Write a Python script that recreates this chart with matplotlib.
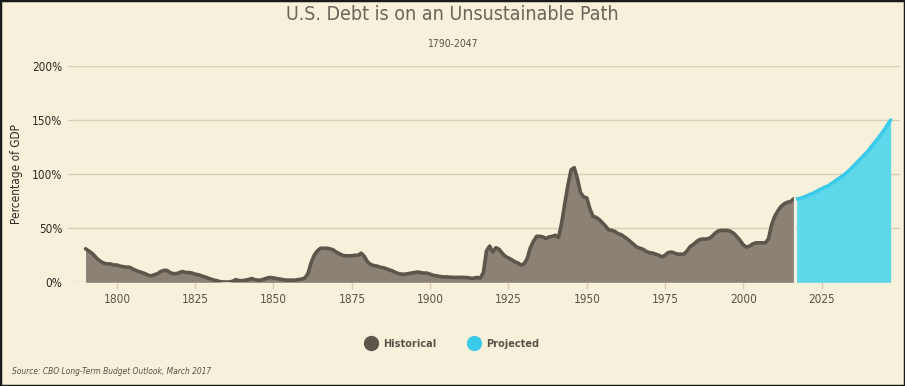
import matplotlib
matplotlib.use("Agg")
import matplotlib.pyplot as plt
from matplotlib.lines import Line2D
from matplotlib.patches import Rectangle

plt.rcParams['font.family'] = ['DejaVu Sans']
plt.rcParams['font.stretch'] = 'condensed'

hist_years = list(range(1790, 2017))
hist_values = [
    31, 29, 27, 24, 21, 19, 17.5, 17, 17, 16,            # 1790-1799
    16, 15, 14.5, 14, 14, 12.5, 11, 10, 9, 8,            # 1800-1809
    6.5, 6, 7, 8, 10, 11, 11, 9, 8, 8,                   # 1810-1819
    9, 10, 9, 9, 8.5, 7.5, 7, 6, 5, 4,                   # 1820-1829
    3, 2, 1.5, 0.5, 0.3, 0.2, 0.3, 1, 2.5, 1.5,          # 1830-1839
    1.5, 2, 2.5, 3.5, 2.5, 2, 2, 3, 4, 4.5,              # 1840-1849
    4, 3.5, 3, 2.5, 2, 2, 2, 2, 2.5, 3,                  # 1850-1859
    4, 8, 18, 25, 29, 31.5, 31.5, 31.5, 31, 30,          # 1860-1869
    28, 26.5, 25, 24.5, 24.5, 24.5, 25, 25, 27, 24,      # 1870-1879
    19, 16.5, 15.5, 15, 14, 13.5, 12.5, 11.5, 10.5, 9,   # 1880-1889
    8, 7.5, 7.5, 8, 8.5, 9, 9.5, 9, 8.5, 8.5,            # 1890-1899
    7.5, 6.5, 6, 5.5, 5, 5, 4.8, 4.6, 4.6, 4.6,          # 1900-1909
    4.6, 4.5, 4.3, 3.8, 3.8, 4.5, 3.8, 9, 29, 33.5,      # 1910-1919
    28, 32, 30.5, 27, 24, 22.5, 21, 19, 18, 16,          # 1920-1929
    17, 22, 32, 38, 42.5, 42.5, 42, 40.5, 42, 42.5,      # 1930-1939
    43.5, 41.5, 55, 73, 90, 104, 106, 96, 83, 79,        # 1940-1949
    78, 68, 61, 60, 58, 55, 52, 48.5, 48, 47,            # 1950-1959
    45, 44, 42, 40, 37.5, 35, 32.5, 31.5, 30.5, 28.5,    # 1960-1969
    27.5, 27, 26, 25, 23.5, 25, 27.5, 28, 27, 26,        # 1970-1979
    26, 26, 29, 33, 35, 37.5, 39.5, 40, 40, 40.5,        # 1980-1989
    42.5, 45.5, 47.5, 48, 48, 48, 47, 45, 42, 38.5,      # 1990-1999
    34.5, 32.5, 33.5, 35.5, 36.5, 36.5, 36.5, 36.5, 40, 53,  # 2000-2009
    61, 66, 70, 72.5, 74, 74.5, 77,                      # 2010-2016
]

proj_years = list(range(2017, 2048))
proj_values = [
    77, 77.5, 78.5, 79.5, 81, 82, 83.5, 85, 86.5, 88,
    89, 91, 93, 95, 97, 99, 101.5, 104, 107, 110,
    113, 116, 119, 122, 126, 129.5, 133, 137, 141, 145.5,
    150,
]

x_ticks = [1800, 1825, 1850, 1875, 1900, 1925, 1950, 1975, 2000, 2025]
y_ticks = [0, 50, 100, 150, 200]
y_tick_labels = ['0%', '50%', '100%', '150%', '200%']

BG = '#f7f0da'
GRID = '#d9cfb4'
TEXT = '#5a5348'
HIST_LINE = '#5d564b'
HIST_FILL = '#8b8275'
PROJ_LINE = '#3ccaea'
PROJ_FILL = '#5dd8ea'

fig = plt.figure(figsize=(9.05, 3.86), dpi=100)
fig.patch.set_facecolor(BG)
ax = fig.add_axes([68 / 905, 1 - 282.3 / 386, (900 - 68) / 905, (282.3 - 66) / 386])
ax.set_facecolor(BG)

ax.fill_between(hist_years, hist_values, 0, color=HIST_FILL, lw=0, zorder=2)
ax.plot(hist_years, hist_values, color=HIST_LINE, lw=2.6, solid_joinstyle='round',
        solid_capstyle='round', zorder=3)
ax.fill_between(proj_years, proj_values, 0, color=PROJ_FILL, lw=0, zorder=2)
ax.plot(proj_years, proj_values, color=PROJ_LINE, lw=2.6, solid_capstyle='round', zorder=3)
ax.plot([proj_years[0] - 0.45, proj_years[0] - 0.45], [0, proj_values[0]], color='#f4f1e8',
        lw=1.6, zorder=4)

ax.set_xlim(1784.4, 2050)
ax.set_ylim(0, 200)
ax.set_yticks(y_ticks)
ax.set_yticklabels(y_tick_labels)
ax.set_xticks(x_ticks)
ax.set_xticklabels([str(t) for t in x_ticks])
ax.yaxis.grid(True, color=GRID, lw=1)
ax.set_axisbelow(True)
for s in ax.spines.values():
    s.set_visible(False)
ax.tick_params(axis='y', length=0, pad=4, labelsize=8.5, labelcolor='#2e2a24')
ax.tick_params(axis='x', length=5, width=1, color=GRID, pad=3, labelsize=8.5, labelcolor=TEXT)
ax.set_ylabel('Percentage of GDP', fontsize=8.5, color='#2e2a24')
ax.yaxis.set_label_coords((23 - 68) / 832, 0.5)

fig.text(0.5, 1 - 15 / 386, 'U.S. Debt is on an Unsustainable Path', ha='center', va='center',
         fontsize=14, color='#6b655a')
fig.text(0.5, 1 - 44 / 386, '1790-2047', ha='center', va='center', fontsize=7.5, color=TEXT)

handles = [
    Line2D([], [], marker='o', ls='none', markersize=10, markerfacecolor=HIST_LINE,
           markeredgecolor=HIST_LINE, label='Historical'),
    Line2D([], [], marker='o', ls='none', markersize=10, markerfacecolor=PROJ_LINE,
           markeredgecolor=PROJ_LINE, label='Projected'),
]
leg = fig.legend(handles=handles, loc='center', bbox_to_anchor=(450 / 905, 1 - 344 / 386),
                 ncol=2, frameon=False, handletextpad=0.1, columnspacing=2.5,
                 prop={'size': 7.8, 'weight': 'bold', 'stretch': 'condensed'})
for t in leg.get_texts():
    t.set_color(TEXT)

fig.text(12 / 905, 1 - 371 / 386, 'Source: CBO Long-Term Budget Outlook, March 2017', ha='left',
         va='center', fontsize=6.0, style='italic', color=TEXT)

fig.patches.append(Rectangle((0, 0), 1, 1, transform=fig.transFigure, fill=False,
                             edgecolor='#1a1a1a', lw=2.5, zorder=10))

fig.savefig('out.png', dpi=100, facecolor=BG)
